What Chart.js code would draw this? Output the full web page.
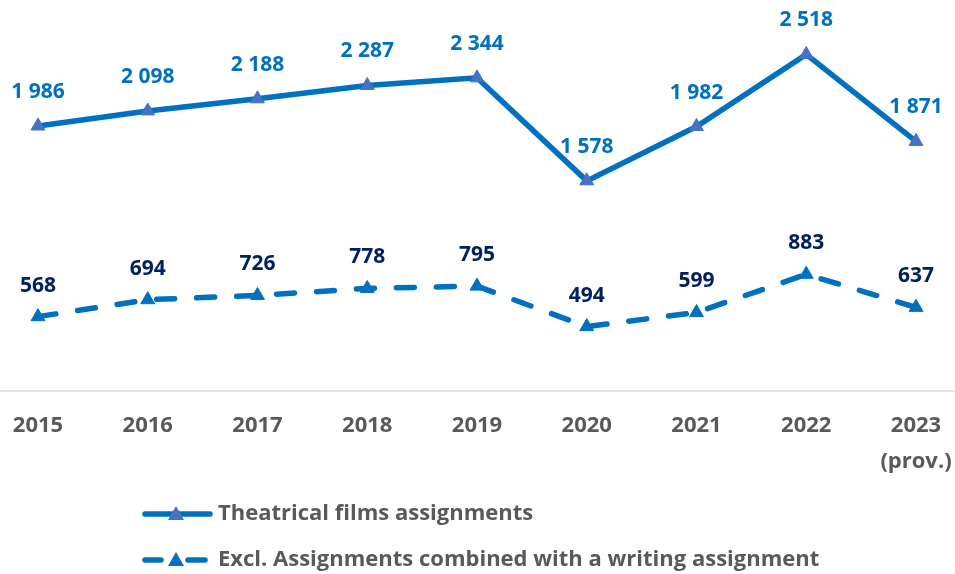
<!DOCTYPE html>
<html>
<head>
<meta charset="utf-8">
<script src="https://cdn.jsdelivr.net/npm/chart.js@4"></script>
<style>
  html, body { margin: 0; padding: 0; background: #fff; }
  #wrap { width: 955px; height: 574px; }
</style>
</head>
<body>
<div id="wrap"><canvas id="assignChart"></canvas></div>
<script>
// Données
const years = ['2015', '2016', '2017', '2018', '2019', '2020', '2021', '2022', ['2023', '(prov.)']];
const theatrical = [1986, 2098, 2188, 2287, 2344, 1578, 1982, 2518, 1871];
const exclWriting = [568, 694, 726, 778, 795, 494, 599, 883, 637];
const seriesNames = ['Theatrical films assignments', 'Excl. Assignments combined with a writing assignment'];

const FONT = '"Open Sans", Lato, sans-serif';

function fmt(v) {
  return String(v).replace(/\B(?=(\d{3})+(?!\d))/g, ' ');
}

// étiquettes de valeurs + ligne d'axe + légende
const extras = {
  id: 'extras',
  beforeDatasetsDraw(chart) {
    const c = chart.ctx;
    const y = chart.scales.x.top - 2;
    c.save();
    c.strokeStyle = '#D9D9D9';
    c.lineWidth = 1.5;
    c.beginPath();
    c.moveTo(0, y);
    c.lineTo(chart.width, y);
    c.stroke();
    c.restore();
  },
  afterDatasetsDraw(chart) {
    const c = chart.ctx;
    c.save();
    c.font = 'bold 21px ' + FONT;
    c.textAlign = 'center';
    c.textBaseline = 'middle';
    chart.data.datasets.forEach((ds, i) => {
      const meta = chart.getDatasetMeta(i);
      c.fillStyle = ds.labelColor;
      meta.data.forEach((pt, j) => {
        c.fillText(fmt(ds.data[j]), pt.x, pt.y - ds.labelOffset);
      });
    });
    c.restore();
  },
  afterDraw(chart) {
    const c = chart.ctx;
    const rows = [514, 560];
    c.save();
    chart.data.datasets.forEach((ds, i) => {
      const y = rows[i];
      c.strokeStyle = ds.borderColor;
      c.lineWidth = ds.borderWidth;
      c.lineCap = 'round';
      c.beginPath();
      if (ds.borderDash) {
        c.moveTo(145, y); c.lineTo(161, y);
        c.moveTo(188, y); c.lineTo(205, y);
      } else {
        c.moveTo(145, y); c.lineTo(210, y);
      }
      c.stroke();
      c.fillStyle = ds.pointBackgroundColor;
      c.beginPath();
      c.moveTo(176, y - 8);
      c.lineTo(184, y + 6);
      c.lineTo(168, y + 6);
      c.closePath();
      c.fill();
      c.fillStyle = '#595959';
      c.font = 'bold 22px ' + FONT;
      c.textAlign = 'left';
      c.textBaseline = 'middle';
      c.fillText(ds.label, 218, y);
    });
    c.restore();
  }
};

const ctx = document.getElementById('assignChart').getContext('2d');
new Chart(ctx, {
  type: 'line',
  data: {
    labels: years,
    datasets: [
      {
        label: seriesNames[0],
        data: theatrical,
        borderColor: '#0070C0',
        borderWidth: 5.5,
        pointStyle: 'triangle',
        pointRadius: 8,
        pointBackgroundColor: '#4472C4',
        pointBorderColor: '#4472C4',
        pointBorderWidth: 1,
        labelColor: '#0070C0',
        labelOffset: 34,
        tension: 0,
        clip: false
      },
      {
        label: seriesNames[1],
        data: exclWriting,
        borderColor: '#0070C0',
        borderWidth: 5.5,
        borderDash: [18, 22],
        borderCapStyle: 'round',
        pointStyle: 'triangle',
        pointRadius: 8,
        pointBackgroundColor: '#0070C0',
        pointBorderColor: '#0070C0',
        pointBorderWidth: 1,
        labelColor: '#002060',
        labelOffset: 31,
        tension: 0,
        clip: false
      }
    ]
  },
  options: {
    responsive: true,
    maintainAspectRatio: false,
    animation: false,
    layout: { autoPadding: false, padding: { left: 38, right: 39, top: 0, bottom: 79 } },
    plugins: {
      legend: { display: false },
      tooltip: { enabled: false }
    },
    scales: {
      x: {
        grid: { display: false, drawTicks: false },
        border: { display: false },
        afterFit(scale) {
          scale.paddingLeft = 0;
          scale.paddingRight = 0;
        },
        ticks: {
          color: '#595959',
          padding: 15,
          maxRotation: 0,
          autoSkip: false,
          font: { family: FONT, size: 22, weight: 'bold', lineHeight: 1.636 }
        }
      },
      y: {
        display: false,
        min: 0,
        max: 2923
      }
    }
  },
  plugins: [extras]
});
</script>
</body>
</html>
